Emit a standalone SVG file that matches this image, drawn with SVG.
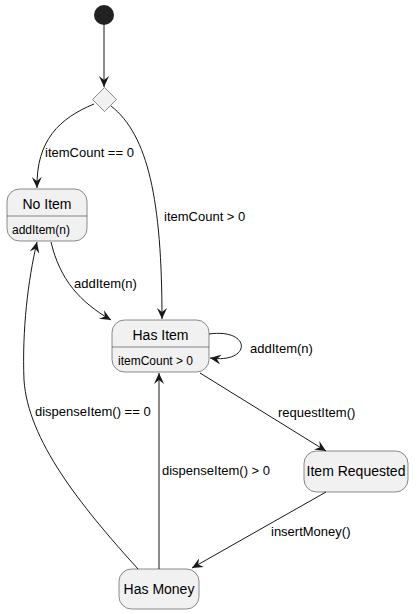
<svg xmlns="http://www.w3.org/2000/svg" width="418" height="614" viewBox="0 0 418 614">
<defs>
<style>
.st{fill:#F1F1F1;stroke:#181818;stroke-width:0.5}
.sep{stroke:#181818;stroke-width:0.5}
.e{fill:none;stroke:#181818;stroke-width:1}
.t{font-family:"Liberation Sans",Arial,sans-serif;font-size:14px;fill:#000}
.d{font-family:"Liberation Sans",Arial,sans-serif;font-size:12px;fill:#000}
.l{font-family:"Liberation Sans",Arial,sans-serif;font-size:13px;fill:#000}
</style>
<marker id="a" viewBox="0 0 12 10" refX="11" refY="5" markerWidth="12" markerHeight="10" markerUnits="userSpaceOnUse" orient="auto">
<path d="M0,0 L11,5 L0,10 L4,5 Z" fill="#181818"/>
</marker>
</defs>
<rect width="418" height="614" fill="#FFFFFF"/>
<g id="start"><circle cx="104" cy="15" r="10" fill="#222222"/></g>
<g id="choice"><polygon points="104.5,87.5 116.5,99.5 104.5,111.5 92.5,99.5" fill="#F1F1F1" stroke="#181818" stroke-width="0.5"/></g>
<g id="noItem">
<rect class="st" x="7" y="189" width="80" height="52" rx="12.5"/>
<line class="sep" x1="7" y1="216" x2="87" y2="216"/>
<text class="t" x="47" y="209" text-anchor="middle">No Item</text>
<text class="d" x="12" y="234">addItem(n)</text>
</g>
<g id="hasItem">
<rect class="st" x="112" y="320" width="97" height="52" rx="12.5"/>
<line class="sep" x1="112" y1="347" x2="209" y2="347"/>
<text class="t" x="160.5" y="340" text-anchor="middle">Has Item</text>
<text class="d" x="118" y="365">itemCount &gt; 0</text>
</g>
<g id="itemRequested">
<rect class="st" x="304" y="451" width="104" height="41" rx="12.5"/>
<text class="t" x="356" y="476" text-anchor="middle">Item Requested</text>
</g>
<g id="hasMoney">
<rect class="st" x="119" y="569" width="80" height="40" rx="12.5"/>
<text class="t" x="159" y="594" text-anchor="middle">Has Money</text>
</g>
<g id="connectors">
<path class="e" d="M94,104 C60,118 36,140 37,188" marker-end="url(#a)"/>
<path class="e" d="M104,25 L104,87" marker-end="url(#a)"/>
<path class="e" d="M111,106 C148,135 162,200 162,319" marker-end="url(#a)"/>
<path class="e" d="M51,242 C60,280 80,302 111,320" marker-end="url(#a)"/>
<path class="e" d="M209,334 C252,328 252,364 210,358" marker-end="url(#a)"/>
<path class="e" d="M200,373 L326,451" marker-end="url(#a)"/>
<path class="e" d="M326,492 L192,568" marker-end="url(#a)"/>
<path class="e" d="M159,569 L159,373" marker-end="url(#a)"/>
<path class="e" d="M138,569 C80,505 28,440 24,380 C22,330 28,280 37,242" marker-end="url(#a)"/>
<text class="l" x="45" y="157">itemCount == 0</text>
<text class="l" x="164" y="221">itemCount &gt; 0</text>
<text class="l" x="74" y="288">addItem(n)</text>
<text class="l" x="250" y="353">addItem(n)</text>
<text class="l" x="278" y="417">requestItem()</text>
<text class="l" x="271" y="536">insertMoney()</text>
<text class="l" x="162" y="475">dispenseItem() &gt; 0</text>
<text class="l" x="35" y="416">dispenseItem() == 0</text>
</g>
</svg>
